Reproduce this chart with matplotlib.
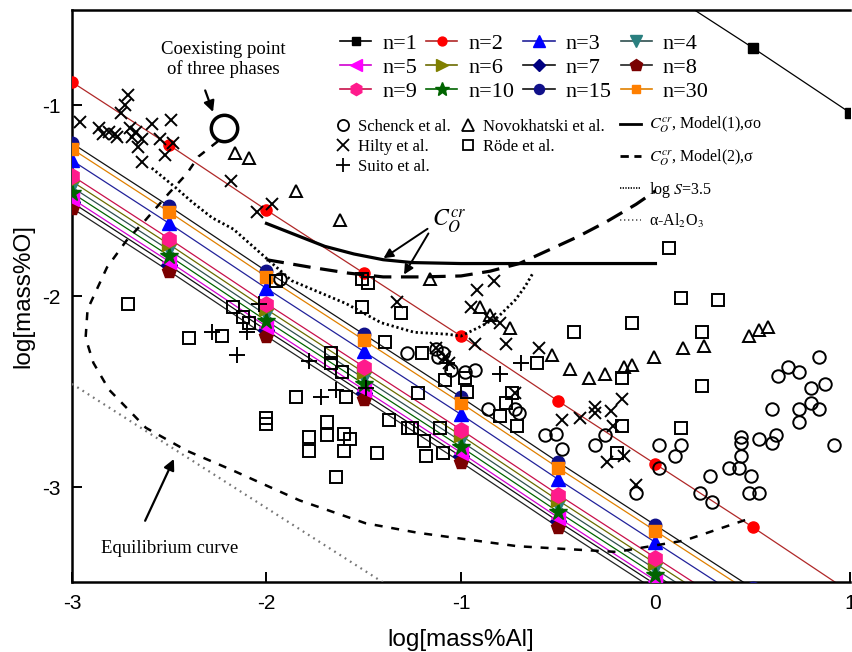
import matplotlib
matplotlib.use('Agg')
import matplotlib.pyplot as plt
from matplotlib.lines import Line2D

plt.rcParams['mathtext.fontset'] = 'stix'
plt.rcParams['axes.unicode_minus'] = False
SERIF = 'Liberation Serif'
SANS = 'Liberation Sans'

# model lines, values at log[Al] = -3 ... 1 (step 0.5)
n_x = [-3.0, -2.5, -2.0, -1.5, -1.0, -0.5, 0.0, 0.5, 1.0]
n1 = [1.63, 1.30, 0.96, 0.63, 0.30, -0.04, -0.37, -0.70, -1.04]
n2 = [-0.88, -1.21, -1.55, -1.88, -2.21, -2.55, -2.88, -3.21, -3.55]
n3 = [-1.29, -1.62, -1.96, -2.29, -2.62, -2.96, -3.29, -3.62, -3.96]
n4 = [-1.43, -1.76, -2.10, -2.43, -2.76, -3.10, -3.43, -3.76, -4.10]
n5 = [-1.49, -1.82, -2.16, -2.49, -2.82, -3.16, -3.49, -3.82, -4.16]
n6 = [-1.40, -1.73, -2.07, -2.40, -2.73, -3.07, -3.40, -3.73, -4.07]
n7 = [-1.51, -1.84, -2.18, -2.51, -2.84, -3.18, -3.51, -3.84, -4.18]
n8 = [-1.54, -1.87, -2.21, -2.54, -2.87, -3.21, -3.54, -3.87, -4.21]
n9 = [-1.37, -1.70, -2.04, -2.37, -2.70, -3.04, -3.37, -3.70, -4.04]
n10 = [-1.46, -1.79, -2.13, -2.46, -2.79, -3.13, -3.46, -3.79, -4.13]
n15 = [-1.20, -1.53, -1.87, -2.20, -2.53, -2.87, -3.20, -3.53, -3.87]
n30 = [-1.23, -1.56, -1.90, -2.23, -2.56, -2.90, -3.23, -3.56, -3.90]

# experimental data
schenck_x = [-1.28, -1.13, -1.12, -1.09, -1.05, -0.93, -0.98, -0.86, -0.72, -0.70,
             -0.57, -0.51, -0.48, -0.31, -0.26, 0.02, 0.13, 0.10, 0.02, -0.10,
             0.23, 0.28, 0.29, 0.38, 0.43, 0.44, 0.44, 0.44, 0.53, 0.60,
             0.62, 0.60, 0.49, 0.48, 0.53, 0.63, 0.68, 0.74, 0.80, 0.87,
             0.84, 0.74, 0.80, 0.84, 0.74, 0.92, -1.93]
schenck_y = [-2.30, -2.28, -2.32, -2.30, -2.39, -2.39, -2.40, -2.59, -2.59, -2.61,
             -2.73, -2.72, -2.80, -2.78, -2.73, -2.78, -2.78, -2.84, -2.90, -3.03,
             -3.03, -2.94, -3.08, -2.90, -2.90, -2.84, -2.74, -2.77, -2.75, -2.77,
             -2.73, -2.59, -2.94, -3.03, -3.03, -2.42, -2.37, -2.40, -2.48, -2.46,
             -2.32, -2.59, -2.56, -2.59, -2.66, -2.78, -1.91]

hilty_x = [-2.96, -2.71, -2.73, -2.75, -2.86, -2.84, -2.81, -2.78, -2.77, -2.70,
           -2.69, -2.67, -2.64, -2.66, -2.59, -2.55, -2.49, -2.48, -2.52, -2.64,
           -2.18, -2.05, -1.97, -1.33, -0.92, -0.83, -0.95, -0.85, -0.80, -0.93,
           -0.77, -1.13, -1.08, -1.06, -0.60, -0.72, -0.48, -0.39, -0.31, -0.31,
           -0.23, -0.17, -0.22, -0.25, -0.16, -0.10]
hilty_y = [-1.09, -0.95, -1.00, -1.04, -1.12, -1.15, -1.14, -1.15, -1.17, -1.12,
           -1.17, -1.14, -1.18, -1.22, -1.10, -1.18, -1.08, -1.20, -1.26, -1.30,
           -1.40, -1.56, -1.52, -2.03, -1.97, -1.92, -2.06, -2.12, -2.14, -2.25,
           -2.25, -2.27, -2.32, -2.35, -2.27, -2.51, -2.65, -2.64, -2.58, -2.61,
           -2.60, -2.54, -2.68, -2.87, -2.84, -2.99]

suito_x = [-2.04, -2.28, -2.15, -2.10, -1.78, -1.72, -1.64, -1.49, -0.69, -0.80, -1.07]
suito_y = [-2.04, -2.19, -2.31, -2.19, -2.34, -2.53, -2.49, -2.48, -2.35, -2.41, -2.35]

novo_x = [-2.16, -2.09, -1.85, -1.62, -1.16, -0.90, -0.85, -0.75, -0.53, -0.44,
          -0.34, -0.26, -0.16, -0.12, -0.01, 0.14, 0.25, 0.48, 0.53, 0.58]
novo_y = [-1.25, -1.28, -1.45, -1.60, -1.91, -2.06, -2.10, -2.17, -2.31, -2.38,
          -2.43, -2.41, -2.37, -2.36, -2.32, -2.27, -2.26, -2.21, -2.18, -2.16]

rode_x = [-2.71, -2.40, -2.23, -2.17, -2.12, -2.09, -1.95, -1.67, -1.67, -1.61,
          -2.00, -2.00, -1.85, -1.59, -1.78, -1.78, -1.69, -1.69, -1.60, -1.57,
          -1.60, -1.43, -1.64, -1.39, -1.37, -1.27, -1.25, -1.22, -1.19, -1.18,
          -1.51, -1.48, -1.51, -1.31, -1.20, -1.08, -0.98, -0.97, -1.11, -1.09,
          -0.77, -0.74, -0.80, -0.71, -0.61, -0.42, 0.07, 0.13, 0.32, -0.12,
          0.24, -0.17, 0.24, -0.17, 0.13, -0.20]
rode_y = [-2.04, -2.22, -2.21, -2.06, -2.11, -2.14, -1.92, -2.30, -2.35, -2.40,
          -2.64, -2.67, -2.53, -2.53, -2.74, -2.81, -2.66, -2.73, -2.72, -2.75,
          -2.81, -2.82, -2.95, -2.24, -2.65, -2.69, -2.69, -2.51, -2.76, -2.84,
          -1.91, -1.93, -2.06, -2.09, -2.30, -2.44, -2.43, -2.50, -2.69, -2.82,
          -2.56, -2.51, -2.63, -2.68, -2.35, -2.19, -1.75, -2.01, -2.02, -2.14,
          -2.19, -2.43, -2.47, -2.68, -2.69, -2.82]

# curves
model1_x = [-2.0, -1.85, -1.7, -1.55, -1.4, -1.25, -1.0, 0.0]
model1_y = [-1.62, -1.68, -1.74, -1.78, -1.81, -1.825, -1.83, -1.83]
model2_x = [-2.0, -1.77, -1.58, -1.4, -1.2, -1.0, -0.85, -0.7, -0.55, -0.4, -0.25, -0.1, 0.0]
model2_y = [-1.81, -1.85, -1.88, -1.90, -1.90, -1.895, -1.87, -1.83, -1.76, -1.69, -1.61, -1.52, -1.45]
logs_x = [-2.59, -2.47, -2.38, -2.28, -2.17, -2.07, -1.97, -1.87, -1.73, -1.59,
          -1.41, -1.24, -1.07, -1.00, -0.90, -0.81, -0.72, -0.67, -0.63]
logs_y = [-1.33, -1.43, -1.51, -1.59, -1.65, -1.74, -1.83, -1.92, -1.98, -2.04,
          -2.14, -2.19, -2.20, -2.21, -2.16, -2.11, -2.02, -1.95, -1.88]
eq_x = [-2.25, -2.35, -2.41, -2.50, -2.62, -2.72, -2.82, -2.92, -2.93, -2.89,
        -2.81, -2.62, -2.41, -2.18, -1.83, -1.49, -1.22, -0.71, -0.20, 0.15, 0.47]
eq_y = [-1.19, -1.27, -1.36, -1.46, -1.60, -1.71, -1.85, -2.07, -2.22, -2.35,
        -2.49, -2.69, -2.81, -2.91, -3.07, -3.19, -3.24, -3.31, -3.34, -3.28, -3.17]
al2o3_x = [-3.0, -1.40]
al2o3_y = [-2.46, -3.50]

coexist = (-2.22, -1.12)

n_series = {'n=1': n1, 'n=2': n2, 'n=3': n3, 'n=4': n4, 'n=5': n5, 'n=6': n6,
            'n=7': n7, 'n=8': n8, 'n=9': n9, 'n=10': n10, 'n=15': n15, 'n=30': n30}
# marker, marker colour, line colour, marker size
n_style = {
    'n=1': ('s', 'black', 'black', 7),
    'n=2': ('o', 'red', '#b02828', 8),
    'n=3': ('^', 'blue', '#22229a', 10),
    'n=4': ('v', '#2a7f7f', '#2f4f4f', 10),
    'n=5': ('<', 'magenta', '#d000d0', 10),
    'n=6': ('>', '#808000', '#6b6b00', 10),
    'n=7': ('D', '#000080', '#111111', 8),
    'n=8': ('p', '#7a0000', '#222222', 11),
    'n=9': ('h', '#ff1a8c', '#c8104a', 11),
    'n=10': ('*', '#006400', '#006400', 13),
    'n=15': ('o', '#10108a', '#111111', 9),
    'n=30': ('s', '#ff7f00', '#e08000', 8),
}
draw_order = ['n=7', 'n=8', 'n=5', 'n=4', 'n=10', 'n=6', 'n=9', 'n=3', 'n=15', 'n=30', 'n=2', 'n=1']

fig = plt.figure(figsize=(8.53, 6.52), dpi=100)
ax = fig.add_axes([0.0844, 0.1066, 0.912, 0.8788])

for k in draw_order:
    m, fc, lc, ms = n_style[k]
    ax.plot(n_x, n_series[k], color=lc, lw=0.9, zorder=2)
    ax.plot(n_x, n_series[k], ls='none', marker=m, mfc=fc, mec=fc, ms=ms, zorder=3)

ax.plot(schenck_x, schenck_y, 'o', mfc='none', mec='k', ms=9, mew=1.4, zorder=4)
ax.plot(hilty_x, hilty_y, 'x', color='k', ms=9, mew=1.4, zorder=4)
ax.plot(suito_x, suito_y, '+', color='k', ms=11, mew=1.4, zorder=4)
ax.plot(novo_x, novo_y, '^', mfc='none', mec='k', ms=9, mew=1.4, zorder=4)
ax.plot(rode_x, rode_y, 's', mfc='none', mec='k', ms=8, mew=1.4, zorder=4)

ax.plot(model1_x, model1_y, color='k', lw=2.3, zorder=5)
ax.plot(model2_x, model2_y, color='k', lw=2.3, dashes=(5.5, 3), zorder=5)
ax.plot(logs_x, logs_y, color='k', lw=2.0, ls=(0, (0.8, 1.0)), zorder=5)
ax.plot(eq_x, eq_y, color='k', lw=1.8, dashes=(3.2, 3.5), zorder=5)
ax.plot(al2o3_x, al2o3_y, color='#777777', lw=1.6, ls=(0, (0.8, 2.0)), zorder=5)
ax.plot([coexist[0]], [coexist[1]], 'o', mfc='none', mec='k', ms=19, mew=2.5, zorder=6)

ax.text(-2.22, -0.76, 'Coexisting point\nof three phases', ha='center', va='center',
        family=SERIF, size=13.5, linespacing=1.15)
ax.annotate('', xy=(-2.27, -1.05), xytext=(-2.32, -0.91),
            arrowprops=dict(arrowstyle='-|>', color='k', lw=1.6, mutation_scale=16))
ax.text(-2.50, -3.32, 'Equilibrium curve', ha='center', va='center', family=SERIF, size=13.5)
ax.annotate('', xy=(-2.47, -2.84), xytext=(-2.63, -3.19),
            arrowprops=dict(arrowstyle='-|>', color='k', lw=1.6, mutation_scale=16))
ax.text(-1.06, -1.61, r'$C_O^{cr}$', ha='center', va='center', size=17)
ax.annotate('', xy=(-1.41, -1.81), xytext=(-1.16, -1.64),
            arrowprops=dict(arrowstyle='-|>', color='k', lw=1.4, mutation_scale=14))
ax.annotate('', xy=(-1.30, -1.90), xytext=(-1.16, -1.66),
            arrowprops=dict(arrowstyle='-|>', color='k', lw=1.4, mutation_scale=14))

# legends
leg_order = ['n=1', 'n=5', 'n=9', 'n=2', 'n=6', 'n=10', 'n=3', 'n=7', 'n=15', 'n=4', 'n=8', 'n=30']
proxies = []
for k in leg_order:
    m, fc, lc, ms = n_style[k]
    proxies.append(Line2D([], [], color=lc, lw=1.2, marker=m, mfc=fc, mec=fc, ms=ms * 0.8))
leg1 = ax.legend(proxies, leg_order, ncol=4, loc='upper left', bbox_to_anchor=(0.325, 0.985),
                 frameon=False, prop=dict(family=SERIF, size=16), handlelength=1.4,
                 handletextpad=0.5, columnspacing=0.4, labelspacing=0.15, borderpad=0.2)
ax.add_artist(leg1)

data_handles = [
    Line2D([], [], ls='none', marker='o', mfc='none', mec='k', ms=8, mew=1.3),
    Line2D([], [], ls='none', marker='x', color='k', ms=8, mew=1.3),
    Line2D([], [], ls='none', marker='+', color='k', ms=10, mew=1.3),
    Line2D([], [], ls='none', marker='^', mfc='none', mec='k', ms=8, mew=1.3),
    Line2D([], [], ls='none', marker='s', mfc='none', mec='k', ms=7, mew=1.3),
]
data_labels = ['Schenck et al.', 'Hilty et al.', 'Suito et al.', 'Novokhatski et al.', 'Röde et al.']
leg2 = ax.legend(data_handles, data_labels, ncol=2, loc='upper left', bbox_to_anchor=(0.325, 0.83),
                 frameon=False, prop=dict(family=SERIF, size=12), handlelength=0.8,
                 handletextpad=0.5, columnspacing=0.6, labelspacing=0.25, borderpad=0.2)
ax.add_artist(leg2)

curve_handles = [
    Line2D([], [], color='k', lw=2.0),
    Line2D([], [], color='k', lw=2.0, dashes=(3, 2)),
    Line2D([], [], color='k', lw=1.2, ls=(0, (0.8, 0.8))),
    Line2D([], [], color='#555555', lw=1.2, ls=(0, (0.8, 1.6))),
]
curve_labels = [r'$C_O^{cr}$, Model(1),σo', r'$C_O^{cr}$, Model(2),σ', r'log $S$=3.5',
                r'α-Al$_2$O$_3$']
ax.legend(curve_handles, curve_labels, loc='upper left', bbox_to_anchor=(0.69, 0.835),
          frameon=False, prop=dict(family=SERIF, size=11.5), handlelength=1.3,
          handletextpad=0.5, labelspacing=0.75, borderpad=0.2)

ax.set_xlim(-3, 1)
ax.set_ylim(-3.5, -0.5)
ax.set_xticks([-3, -2, -1, 0, 1])
ax.set_yticks([-3, -2, -1])
ax.tick_params(direction='in', length=7, width=1.4, labelsize=15, pad=8)
for lab in ax.get_xticklabels() + ax.get_yticklabels():
    lab.set_family(SANS)
for s in ax.spines.values():
    s.set_linewidth(1.8)
ax.spines['right'].set_visible(False)
ax.set_xlabel('log[mass%Al]', family=SANS, size=17.5, labelpad=12)
ax.set_ylabel('log[mass%O]', family=SANS, size=17.5, labelpad=6)

fig.savefig('out.png', dpi=100)
